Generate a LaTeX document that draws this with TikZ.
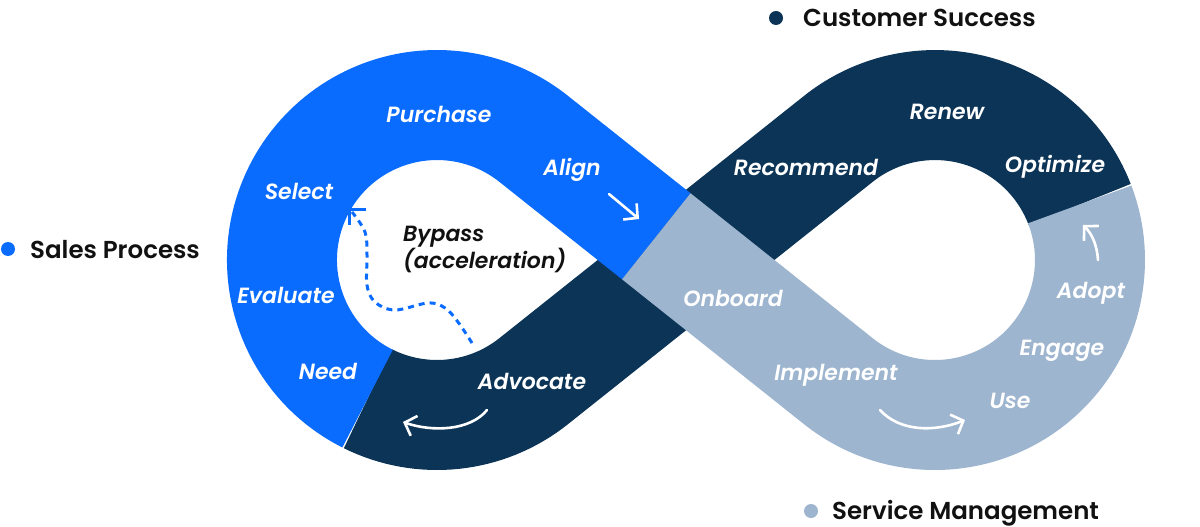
\documentclass[tikz,border=0pt]{standalone}
\usepackage{fontspec}
\newfontfamily\pop{Poppins}[BoldFont={Poppins SemiBold},BoldItalicFont={Poppins SemiBold Italic}]
\usetikzlibrary{arrows.meta,calc}
\definecolor{cblue}{HTML}{0A6CFF}
\definecolor{cnavy}{HTML}{0C3457}
\definecolor{clight}{HTML}{9DB5CF}
\definecolor{ctext}{HTML}{111111}
\begin{document}
\begin{tikzpicture}[x=1pt,y=1pt,
  band/.style={line width=110pt,line cap=butt},
  lab/.style={text=white,font=\pop\bfseries\itshape\fontsize{22}{26}\selectfont,inner sep=0pt,anchor=base},
  blab/.style={text=ctext,font=\pop\bfseries\itshape\fontsize{22}{26}\selectfont,inner sep=0pt,anchor=base west},
  legend/.style={text=ctext,font=\pop\bfseries\fontsize{24.5}{30}\selectfont,anchor=base west,inner sep=0pt},
  wa/.style={white,line width=2.6pt,line cap=round,-{Straight Barb[length=10pt,width=21pt]}},
]
\fill[white] (0,0) rectangle (1200,-527);
\useasboundingbox (0,0) rectangle (1200,-527);
% geometry
\coordinate (L) at (437,-260);
\coordinate (R) at (935,-260);
\coordinate (C) at (686,-260);
\coordinate (P) at (656.3,-236.3);
% navy band (Customer Success)
\draw[band,cnavy] (1079.7,-204.5) arc[start angle=21,end angle=128.5,radius=155]
   -- (533.5,-381.3) arc[start angle=308.5,end angle=243.4,radius=155];
% blue band (Sales Process)
\draw[band,cblue] (367.6,-398.6) arc[start angle=243.4,end angle=51.5,radius=155] -- (P);
% light band (Service Management)
\draw[band,clight] (P) -- (838.5,-381.3) arc[start angle=231.5,end angle=381,radius=155];

% legend
\fill[cnavy] (776,-18) circle (7);
\node[legend] (cs) at (803,-27) {Customer Success};
\fill[cblue] (8,-249) circle (7);
\node[legend] (sp) at (30,-258) {Sales Process};
\fill[clight] (811,-511) circle (7);
\node[legend] (sm) at (832,-519) {Service Management};

% labels
\node[lab] (purchase) at (439,-122) {Purchase};
\node[lab] (align) at (572,-175) {Align};
\node[lab] (select) at (299,-199) {Select};
\node[lab] (evaluate) at (286,-303) {Evaluate};
\node[lab] (need) at (328,-379) {Need};
\node[lab] (advocate) at (532,-389) {Advocate};
\node[lab] (recommend) at (806,-175) {Recommend};
\node[lab] (renew) at (947,-119) {Renew};
\node[lab] (optimize) at (1055,-172) {Optimize};
\node[lab] (onboard) at (733,-306) {Onboard};
\node[lab] (implement) at (836,-380) {Implement};
\node[lab] (adopt) at (1091,-298) {Adopt};
\node[lab] (engage) at (1062,-355) {Engage};
\node[lab] (use) at (1010,-408) {Use};
\node[blab] (bypass) at (403,-241) {Bypass};
\node[blab] (accel) at (403,-268) {(acceleration)};

% white flow arrows
\coordinate (a1) at (609,-194); \coordinate (a2) at (639,-219);
\draw[wa] (a1) -- (a2);
\coordinate (b1) at (487,-410); \coordinate (b2) at (403,-422);
\draw[wa] (b1) .. controls (470,-431) and (432,-432) .. (b2);
\coordinate (c1) at (880,-410); \coordinate (c2) at (965,-420);
\draw[wa] (c1) .. controls (900,-432) and (935,-432) .. (c2);
\coordinate (d1) at (1098,-260); \coordinate (d2) at (1083,-225);
\draw[wa] (d1) .. controls (1097,-245) and (1092,-234) .. (d2);

% bypass dotted arrow
\draw[cblue,line width=3pt,dash pattern=on 6pt off 5pt] plot[smooth,tension=0.6] coordinates
  {(472,-343) (458,-322) (445,-308) (428,-303) (395,-310) (375,-302) (367,-285) (367,-255) (365,-232) (352,-212)};
\coordinate (h0) at (349,-209);
\draw[cblue,line width=3pt] (366,-209) -- (h0) -- (349,-225);
\end{tikzpicture}
\end{document}
